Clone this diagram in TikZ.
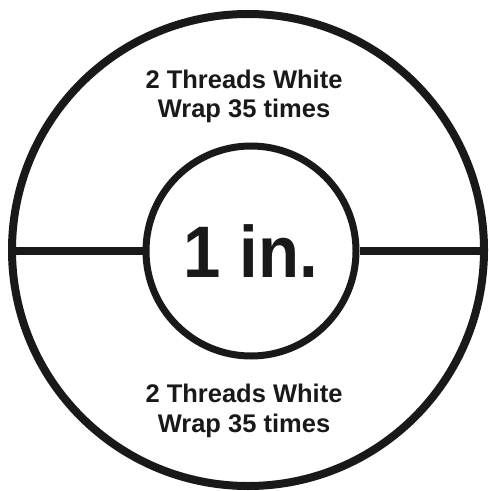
\documentclass[tikz,border=0pt]{standalone}
\usepackage{fontspec}
\setmainfont{Liberation Sans}
\begin{document}
\begin{tikzpicture}[x=1bp,y=-1bp,
  ring/.style={draw=black!90,line width=8bp},
  label/.style={font=\bfseries\fontsize{25.5bp}{29.5bp}\selectfont,align=center,text=black!90,inner sep=0pt},
  big/.style={font=\bfseries\fontsize{73bp}{73bp}\selectfont,text=black!90,inner sep=0pt}]
\useasboundingbox (0,0) rectangle (489,491);
\coordinate (c) at (248,250);
\draw[ring] (c) circle[radius=236];
\node[circle,draw=black!90,line width=7bp,minimum size=210bp,inner sep=0pt] (inner) at (251,251) {};
\coordinate (L) at (12,251);
\coordinate (R) at (484,251);
\draw[ring] (L) -- (inner.west);
\draw[ring] (inner.east) -- (R);
\node[big,anchor=base] (one) at (251,277) {\scalebox{0.92}[1]{1 in.}};
\node[label,anchor=base] (top) at (244,118) {2 Threads White\\Wrap 35 times};
\node[label,anchor=base] (bot) at (244,432) {2 Threads White\\Wrap 35 times};
\end{tikzpicture}
\end{document}
